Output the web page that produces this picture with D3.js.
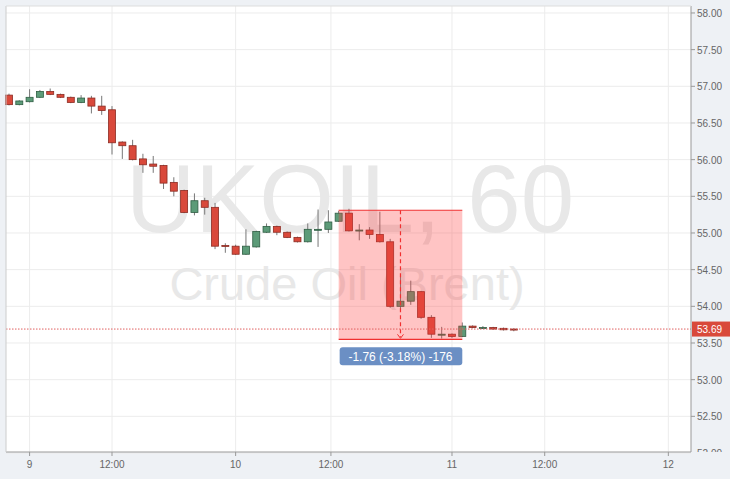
<!DOCTYPE html>
<html><head><meta charset="utf-8">
<script src="https://cdn.jsdelivr.net/npm/d3@7"></script>
<style>body{margin:0;background:#eef1f5;}svg{display:block;font-family:Arial,"Liberation Sans",sans-serif;}</style>
</head><body><svg id="c" width="730" height="479"></svg>
<script>
const opens=[56.88,56.75,56.79,56.85,56.93,56.89,56.85,56.78,56.84,56.73,56.68,56.24,56.19,56.01,55.94,55.92,55.69,55.58,55.28,55.44,55.35,54.83,54.82,
54.71,54.81,55.01,55.09,55.01,54.94,54.88,55.05,55.05,55.16,55.27,55.03,55.04,54.98,54.88,54.00,54.07,54.20,53.85,53.62,53.62,53.59,53.73,53.71,53.71,53.70,53.69];
const closes=[56.75,56.80,56.85,56.93,56.89,56.85,56.78,56.84,56.73,56.67,56.23,56.19,56.00,55.93,55.91,55.68,55.57,55.28,55.44,55.35,54.82,54.82,54.71,
54.82,55.02,55.09,55.01,54.94,54.88,55.05,55.05,55.15,55.27,55.03,55.04,54.98,54.88,54.00,54.07,54.20,53.85,53.62,53.62,53.59,53.73,53.71,53.71,53.69,53.68,53.68];
const highs=[56.90,56.81,56.96,56.95,56.97,56.90,56.86,56.88,56.87,56.87,56.73,56.25,56.27,56.08,56.05,55.93,55.76,55.59,55.54,55.48,55.41,54.86,54.84,
55.05,55.03,55.13,55.10,55.02,54.95,55.13,55.32,55.31,55.30,55.33,55.12,55.08,55.29,54.92,54.41,54.35,54.21,53.88,53.72,53.63,53.78,53.74,53.73,53.72,53.71,53.70];
const lows=[56.74,56.74,56.78,56.84,56.88,56.84,56.77,56.77,56.63,56.61,56.07,56.01,55.99,55.82,55.82,55.60,55.50,55.27,55.24,55.25,54.78,54.73,54.70,
54.70,54.80,55.00,54.97,54.93,54.87,54.87,54.81,55.00,55.15,55.02,54.90,54.92,54.87,53.98,53.94,54.02,53.83,53.57,53.56,53.57,53.58,53.70,53.69,53.68,53.67,53.66];
const yTicks=[52,52.5,53,53.5,54,54.5,55,55.5,56,56.5,57,57.5,58];
const xTickIdx=[2,10,22,31.25,43,52,64];
const xTickLabels=["9","12:00","10","12:00","11","12:00","12"];
const lastPrice=53.69;
const measure={from:32,to:44,hi:55.31,lo:53.55,mid:38,label:"-1.76 (-3.18%) -176"};

const svg=d3.select("#c");
const L=6,R=691,T=6,B=452;
svg.append("rect").attr("x",L).attr("y",T).attr("width",R-L).attr("height",B-T).attr("fill","#fff");
const x=d3.scaleLinear().domain([-0.29,66.2]).range([L,R]);
const y=d3.scaleLinear().domain([52,58.095]).range([453,T]);
const g=svg.append("g");
yTicks.forEach(t=>g.append("line").attr("x1",L).attr("x2",R).attr("y1",y(t)).attr("y2",y(t)).attr("stroke","#ececec"));
xTickIdx.forEach(t=>g.append("line").attr("x1",x(t)).attr("x2",x(t)).attr("y1",T).attr("y2",B).attr("stroke","#ececec"));
svg.append("text").attr("x",350).attr("y",232).attr("text-anchor","middle").attr("font-size",96).attr("fill","#e8e8e8").text("UKOIL, 60");
svg.append("text").attr("x",347).attr("y",300).attr("text-anchor","middle").attr("font-size",47).attr("fill","#e8e8e8").text("Crude Oil (Brent)");
const w=7;
const data=opens.map((o,i)=>({i,o,c:closes[i],h:highs[i],l:lows[i]}));
const cg=svg.append("g");
data.forEach(d=>{
  const up=d.c>=d.o, col=up?"#5c9b78":"#d9493b", st=up?"#2f5d43":"#8b2b22";
  cg.append("line").attr("x1",x(d.i)).attr("x2",x(d.i)).attr("y1",y(d.h)).attr("y2",y(d.l)).attr("stroke","#777").attr("stroke-width",1);
  const top=y(Math.max(d.o,d.c)),hgt=Math.max(1,Math.abs(y(d.o)-y(d.c)));
  cg.append("rect").attr("x",x(d.i)-w/2).attr("y",top).attr("width",w).attr("height",hgt).attr("fill",col).attr("stroke",st).attr("stroke-width",0.8);
});
const mx1=x(measure.from),mx2=x(measure.to);
svg.append("rect").attr("x",mx1).attr("y",y(measure.hi)).attr("width",mx2-mx1).attr("height",y(measure.lo)-y(measure.hi)).attr("fill","rgba(255,60,60,0.3)");
[measure.hi,measure.lo].forEach(v=>svg.append("line").attr("x1",mx1).attr("x2",mx2).attr("y1",y(v)).attr("y2",y(v)).attr("stroke","#f03030").attr("stroke-width",1.2));
svg.append("line").attr("x1",x(measure.mid)).attr("x2",x(measure.mid)).attr("y1",y(measure.hi)).attr("y2",y(measure.lo)-2).attr("stroke","#f03030").attr("stroke-dasharray","4,3").attr("stroke-width",1.2);
svg.append("path").attr("d",`M${x(measure.mid)-3},${y(measure.lo)-5}L${x(measure.mid)},${y(measure.lo)-1}L${x(measure.mid)+3},${y(measure.lo)-5}`).attr("fill","none").attr("stroke","#f03030");
svg.append("rect").attr("x",mx1+1).attr("y",y(measure.lo)+8).attr("width",mx2-mx1-1).attr("height",18).attr("rx",3).attr("fill","#6b8fc4");
svg.append("text").attr("x",(mx1+mx2)/2).attr("y",y(measure.lo)+21.5).attr("text-anchor","middle").attr("font-size",12).attr("fill","#fff").text(measure.label);
svg.append("line").attr("x1",L).attr("x2",R).attr("y1",y(lastPrice)).attr("y2",y(lastPrice)).attr("stroke","#e06060").attr("stroke-dasharray","1.5,1.5");
svg.append("line").attr("x1",R).attr("x2",R).attr("y1",T).attr("y2",B).attr("stroke","#999");
svg.append("line").attr("x1",L).attr("x2",R).attr("y1",B).attr("y2",B).attr("stroke","#999");
svg.append("line").attr("x1",L).attr("x2",L).attr("y1",T).attr("y2",B).attr("stroke","#ccc");
svg.append("line").attr("x1",L).attr("x2",R).attr("y1",T).attr("y2",T).attr("stroke","#ddd");
svg.append("defs").append("clipPath").attr("id","yc").append("rect").attr("x",R).attr("y",0).attr("width",40).attr("height",B);
const ya=svg.append("g").attr("clip-path","url(#yc)");
yTicks.forEach(t=>{
  ya.append("line").attr("x1",R).attr("x2",R+4).attr("y1",y(t)).attr("y2",y(t)).attr("stroke","#999");
  ya.append("text").attr("x",R+6).attr("y",y(t)+4).attr("font-size",10).attr("fill","#666").text(t.toFixed(2));
});
xTickIdx.forEach((t,i)=>{
  svg.append("line").attr("x1",x(t)).attr("x2",x(t)).attr("y1",B).attr("y2",B+4).attr("stroke","#999");
  svg.append("text").attr("x",x(t)).attr("y",B+16).attr("text-anchor","middle").attr("font-size",10).attr("fill","#666").text(xTickLabels[i]);
});
svg.append("rect").attr("x",R+1).attr("y",y(lastPrice)-7.5).attr("width",38).attr("height",15).attr("fill","#d9493b");
svg.append("text").attr("x",R+6).attr("y",y(lastPrice)+4).attr("font-size",10).attr("fill","#fff").text(lastPrice.toFixed(2));
</script></body></html>
